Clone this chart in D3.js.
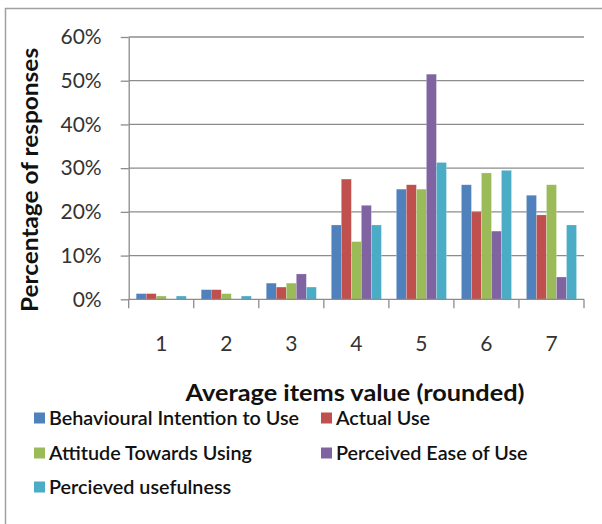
<!DOCTYPE html>
<html>
<head>
<meta charset="utf-8">
<script src="https://cdn.jsdelivr.net/npm/d3@7"></script>
<style>
  html, body { margin: 0; padding: 0; background: #fff; }
  svg { display: block; font-family: Lato, "Open Sans", sans-serif; }
</style>
</head>
<body>
<svg id="chart" width="602" height="524"></svg>
<script>
// Average item value (rounded) on the x axis
const categories = ["1", "2", "3", "4", "5", "6", "7"];

const seriesNames = [
  "Behavioural Intention to Use",
  "Actual Use",
  "Attitude Towards Using",
  "Perceived Ease of Use",
  "Percieved usefulness"
];

const seriesColors = ["#4F81BD", "#C0504D", "#9BBB59", "#8064A2", "#4BACC6"];

// Share of responses per category, one array per construct
const behaviouralIntention = [0.013, 0.022, 0.037, 0.170, 0.252, 0.262, 0.238];
const actualUse            = [0.013, 0.022, 0.028, 0.275, 0.262, 0.200, 0.193];
const attitudeTowardsUsing = [0.0075, 0.013, 0.037, 0.132, 0.252, 0.289, 0.262];
const perceivedEaseOfUse   = [0.000, 0.000, 0.058, 0.215, 0.515, 0.156, 0.051];
const percievedUsefulness  = [0.0075, 0.0075, 0.028, 0.170, 0.313, 0.295, 0.170];

const seriesValues = [
  behaviouralIntention,
  actualUse,
  attitudeTowardsUsing,
  perceivedEaseOfUse,
  percievedUsefulness
];

const yTicks = [0, 0.1, 0.2, 0.3, 0.4, 0.5, 0.6];

const svg = d3.select("#chart");
const axisColor = "#8c8c8c";

// Outer frame (top and left edges)
svg.append("path")
  .attr("d", "M5.5,524 V8.5 H602")
  .attr("fill", "none")
  .attr("stroke", "#a0a0a0")
  .attr("stroke-width", 1.5);

const plot = { left: 128.7, right: 584, top: 37, bottom: 299.3 };

const x = d3.scaleBand()
  .domain(categories)
  .range([plot.left, plot.right])
  .paddingInner(0)
  .paddingOuter(0);

const xInner = d3.scaleBand()
  .domain(d3.range(seriesNames.length))
  .range([x.bandwidth() * 0.115, x.bandwidth() * 0.885])
  .padding(0);

const y = d3.scaleLinear()
  .domain([0, 0.6])
  .range([plot.bottom, plot.top]);

// Horizontal gridlines
svg.append("g")
  .selectAll("line")
  .data(yTicks.slice(1))
  .join("line")
  .attr("x1", plot.left)
  .attr("x2", plot.right)
  .attr("y1", d => y(d))
  .attr("y2", d => y(d))
  .attr("stroke", axisColor)
  .attr("stroke-width", 1.3);

// Y axis
const yAxis = d3.axisLeft(y)
  .tickValues(yTicks)
  .tickFormat(d3.format(".0%"))
  .tickSizeInner(8)
  .tickSizeOuter(0)
  .tickPadding(19);

const gy = svg.append("g")
  .attr("transform", `translate(${plot.left},0)`)
  .call(yAxis);
gy.select(".domain").attr("stroke", axisColor).attr("stroke-width", 1.3);
gy.selectAll(".tick line").attr("stroke", axisColor).attr("stroke-width", 1.3);
gy.selectAll(".tick text")
  .attr("fill", "#333")
  .style("font-size", "21px")
  .style("font-family", "Lato, sans-serif");

// Bars
const groups = svg.append("g")
  .selectAll("g")
  .data(categories)
  .join("g")
  .attr("transform", d => `translate(${x(d)},0)`);

groups.selectAll("rect")
  .data((c, ci) => seriesValues.map((vals, si) => ({ si, v: vals[ci] })))
  .join("rect")
  .attr("x", d => xInner(d.si))
  .attr("width", xInner.bandwidth())
  .attr("y", d => y(d.v))
  .attr("height", d => y(0) - y(d.v))
  .attr("fill", d => seriesColors[d.si])
  .attr("stroke", "rgba(255,255,255,0.35)")
  .attr("stroke-width", 0.6);

// X axis with tick marks on category boundaries
const gx = svg.append("g")
  .attr("transform", `translate(0,${plot.bottom})`);
gx.append("line")
  .attr("x1", plot.left).attr("x2", plot.right)
  .attr("stroke", axisColor).attr("stroke-width", 1.3);
gx.selectAll("line.bound")
  .data(categories.map(c => x(c)).concat([plot.right]))
  .join("line")
  .attr("class", "bound")
  .attr("x1", d => d).attr("x2", d => d)
  .attr("y1", 0).attr("y2", 9)
  .attr("stroke", axisColor).attr("stroke-width", 1.3);
gx.selectAll("text")
  .data(categories)
  .join("text")
  .attr("x", d => x(d) + x.bandwidth() / 2)
  .attr("y", 51.5)
  .attr("text-anchor", "middle")
  .attr("fill", "#333")
  .style("font-size", "21px")
  .text(d => d);

// Axis titles (slightly widened glyphs)
svg.append("text")
  .attr("transform", "translate(38,180) rotate(-90) scale(1.11,1)")
  .attr("text-anchor", "middle")
  .attr("fill", "#111")
  .style("font-size", "22px")
  .style("font-weight", "bold")
  .text("Percentage of responses");

svg.append("text")
  .attr("transform", "translate(355,401) scale(1.15,1)")
  .attr("text-anchor", "middle")
  .attr("fill", "#111")
  .style("font-size", "22px")
  .style("font-weight", "bold")
  .text("Average items value (rounded)");

// Legend, two columns
const legendCols = [34, 321];
const legendRows = [418, 453, 487];
const legend = svg.append("g")
  .selectAll("g")
  .data(seriesNames)
  .join("g")
  .attr("transform", (d, i) => `translate(${legendCols[i % 2]},${legendRows[Math.floor(i / 2)]})`);

legend.append("rect")
  .attr("x", 0)
  .attr("y", -5.5)
  .attr("width", 11)
  .attr("height", 11)
  .attr("fill", (d, i) => seriesColors[i]);

legend.append("text")
  .attr("transform", "translate(15,0) scale(1.07,1)")
  .attr("dy", "0.36em")
  .attr("fill", "#111")
  .style("font-size", "18.5px")
  .style("font-weight", "600")
  .text(d => d);
</script>
</body>
</html>
